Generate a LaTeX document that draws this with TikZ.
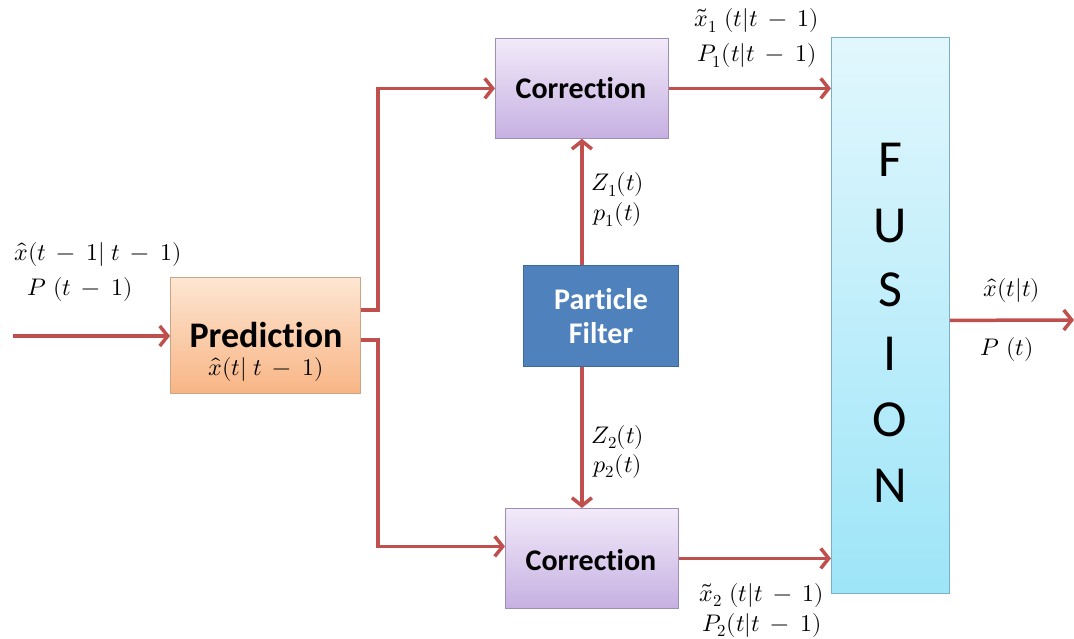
\documentclass[tikz,border=0pt]{standalone}
\usepackage{fontspec}
\usepackage{unicode-math}
\setmathfont{Latin Modern Math}
\newfontfamily\calib[Ligatures=NoCommon]{Carlito}
\usetikzlibrary{arrows.meta}
\definecolor{arr}{HTML}{C0504D}
\definecolor{predtop}{HTML}{FDE6D2}
\definecolor{predbot}{HTML}{F8B585}
\definecolor{predline}{HTML}{C9A585}
\definecolor{cortop}{HTML}{F2EAF9}
\definecolor{corbot}{HTML}{C6B0E2}
\definecolor{corline}{HTML}{9C8EB4}
\definecolor{fustop}{HTML}{E2F7FD}
\definecolor{fusbot}{HTML}{9DE5F8}
\definecolor{fusline}{HTML}{7AAFC7}
\definecolor{pffill}{HTML}{4F81BD}
\definecolor{pfline}{HTML}{3D6A9C}
\medmuskip=8mu plus 2mu minus 2mu
\begin{document}
\begin{tikzpicture}[x=1pt,y=-1pt,
  arrow/.style={draw=arr, line width=3.5pt, -{Straight Barb[length=8pt,width=20pt,line width=3.5pt]}},
  blk/.style={rectangle, inner sep=0pt, anchor=north west, line width=0.8pt},
  mlbl/.style={font=\fontsize{24}{28}\selectfont, inner sep=0pt},
  btxt/.style={font=\calib\bfseries\fontsize{30}{32}\selectfont, inner sep=0pt}]
\useasboundingbox (0,0) rectangle (1074,639);

% blocks
\node[blk, draw=predline, top color=predtop, bottom color=predbot, minimum width=190pt, minimum height=116pt] (pred) at (170,277) {};
\node[blk, draw=corline, top color=cortop, bottom color=corbot, minimum width=173pt, minimum height=100pt] (corA) at (495,38) {};
\node[blk, draw=corline, top color=cortop, bottom color=corbot, minimum width=173pt, minimum height=100pt] (corB) at (505,508) {};
\node[blk, draw=pfline, fill=pffill, minimum width=155pt, minimum height=101pt] (pf) at (523,265) {};
\node[blk, draw=fusline, top color=fustop, bottom color=fusbot, minimum width=118pt, minimum height=556pt] (fus) at (831,37) {};

% block texts
\node[btxt, font=\calib\bfseries\fontsize{36}{38}\selectfont] (predT) at (266,335) {Prediction};
\node[mlbl] (predM) at (266,369) {$\hat{x}(t|\;t-1)$};
\node[btxt] (corAT) at (581,88) {Correction};
\node[btxt] (corBT) at (591,560) {Correction};
\node[btxt, text=white, font=\calib\bfseries\fontsize{30}{33}\selectfont, align=center] (pfT) at (601,316) {Particle\\[1pt]Filter};
\foreach \l/\yy in {F/160,U/226,S/290,I/354,O/420,N/486}
  \node[font=\calib\fontsize{52}{54}\selectfont, inner sep=0pt] (fus\l) at (890,\yy) {\l};

% connectors
\coordinate (in) at (13,336);
\coordinate (out) at (1074,320);
\draw[arrow] (in) -- (in -| pred.west);
\draw[arrow] ([yshift=-33pt]pred.north east) -- ++(17,0) |- (corA.west);
\draw[arrow] ([yshift=-63pt]pred.north east) -- ++(17,0) |- ([yshift=12pt]corB.west);
\draw[arrow] (corA.south |- pf.north) -- (corA.south);
\draw[arrow] (corA.south |- pf.south) -- (corA.south |- corB.north);
\draw[arrow] (corA.east) -- (corA.east -| fus.west);
\draw[arrow] (corB.east) -- (corB.east -| fus.west);
\draw[arrow] ([yshift=-5pt]fus.east) -- (out);

% labels
\node[mlbl] (l1) at (98,255) {$\hat{x}(t-1|\;t-1)$};
\node[mlbl] (l2) at (80,289) {$P\ (t-1)$};
\node[mlbl] (l3) at (757,21) {$\tilde{x}_1\ (t|t-1)$};
\node[mlbl] (l4) at (757,56) {$P_1(t|t-1)$};
\node[mlbl] (l5) at (618,185) {$Z_1(t)$};
\node[mlbl] (l6) at (618,215) {$p_1(t)$};
\node[mlbl] (l7) at (618,437) {$Z_2(t)$};
\node[mlbl] (l8) at (618,466) {$p_2(t)$};
\node[mlbl] (l9) at (762,595) {$\tilde{x}_2\ (t|t-1)$};
\node[mlbl] (l10) at (762,625) {$P_2(t|t-1)$};
\node[mlbl] (l11) at (1012,290) {$\hat{x}(t|t)$};
\node[mlbl] (l12) at (1007,349) {$P\ (t)$};
\end{tikzpicture}
\end{document}
